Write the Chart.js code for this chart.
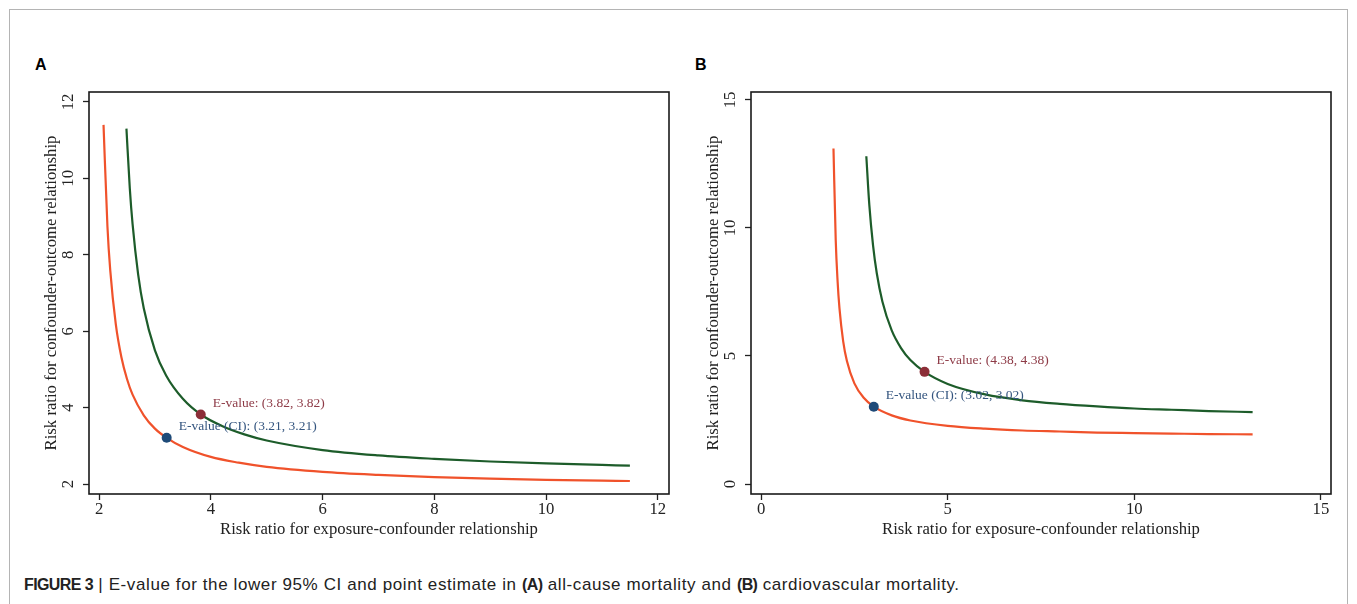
<!DOCTYPE html>
<html>
<head>
<meta charset="utf-8">
<script src="https://cdn.jsdelivr.net/npm/chart.js@4.4.1/dist/chart.umd.min.js"></script>
<style>
  html, body { margin: 0; padding: 0; background: #fff; }
  body { width: 1357px; height: 604px; position: relative; overflow: hidden; }
  .frame { position: absolute; left: 9px; top: 9px; width: 1339px; height: 620px;
           border: 1px solid #b4b4b4; box-sizing: border-box; }
  .panel { position: absolute; top: 0; }
  .letter { position: absolute; top: 56px; font: bold 16px "Liberation Sans", Arial, sans-serif; color: #000; }
  .caption { position: absolute; left: 24px; top: 575px; font: 17px "Liberation Sans", Arial, sans-serif;
             color: #222; letter-spacing: 0.6px; white-space: nowrap; }
  .caption b { font-weight: bold; font-size: 16px; letter-spacing: -0.6px; }
</style>
</head>
<body>
<div class="frame"></div>
<div class="letter" style="left:35px">A</div>
<div class="letter" style="left:695px">B</div>
<div class="panel" style="left:0px"><canvas id="chartA" width="690" height="560"></canvas></div>
<div class="panel" style="left:662px"><canvas id="chartB" width="690" height="560"></canvas></div>
<div class="caption"><b>FIGURE 3</b> | E-value for the lower 95% CI and point estimate in <b>(A)</b> all-cause mortality and <b>(B)</b> cardiovascular mortality.</div>

<script>
// Panel A: all-cause mortality
const aCiX = [2.08, 2.15, 2.2, 2.3, 2.4, 2.5, 2.6, 2.8, 3.0, 3.21, 3.5, 4.0, 4.5, 5, 6, 7, 8, 9, 10, 11, 11.5];
const aCiY = [11.4, 8.74, 7.6, 6.18, 5.32, 4.75, 4.34, 3.8, 3.45, 3.21, 2.97, 2.71, 2.56, 2.45, 2.32, 2.24, 2.18, 2.14, 2.11, 2.09, 2.08];
const aEstX = [2.49, 2.55, 2.6, 2.7, 2.8, 3.0, 3.2, 3.5, 3.82, 4.2, 4.6, 5, 6, 7, 8, 9, 10, 11, 11.5];
const aEstY = [11.3, 9.74, 8.8, 7.48, 6.6, 5.5, 4.84, 4.23, 3.82, 3.52, 3.3, 3.14, 2.89, 2.75, 2.66, 2.59, 2.54, 2.5, 2.48];
const aPoints = [3.82, 3.21];          // E-value, E-value (CI)
const aTicksX = [2, 4, 6, 8, 10, 12];
const aTicksY = [2, 4, 6, 8, 10, 12];

// Panel B: cardiovascular mortality
const bCiX = [1.94, 2.0, 2.05, 2.1, 2.2, 2.3, 2.5, 2.75, 3.02, 3.5, 4, 5, 6, 7, 8, 9, 10, 11, 12, 13.17];
const bCiY = [13.1, 9.53, 7.92, 6.87, 5.57, 4.8, 3.93, 3.37, 3.02, 2.68, 2.48, 2.27, 2.16, 2.09, 2.05, 2.01, 1.99, 1.97, 1.95, 1.94];
const bEstX = [2.82, 2.9, 3.0, 3.1, 3.25, 3.5, 3.75, 4.0, 4.38, 5, 6, 7, 8, 9, 10, 11, 12, 13.17];
const bEstY = [12.8, 10.9, 9.32, 8.23, 7.13, 6.0, 5.31, 4.84, 4.38, 3.91, 3.5, 3.27, 3.13, 3.03, 2.95, 2.9, 2.85, 2.81];
const bPoints = [4.38, 3.02];
const bTicksX = [0, 5, 10, 15];
const bTicksY = [0, 5, 10, 15];

const pointLabels = ['E-value', 'E-value (CI)'];
const xTitle = 'Risk ratio for exposure-confounder relationship';
const yTitle = 'Risk ratio for confounder-outcome relationship';

const RED = '#f0522b', GREEN = '#1d5c2a';
const DOT_EST = '#8c2e38', DOT_CI = '#1e4a78';
const TXT_EST = '#8e3b47', TXT_CI = '#34557f';
const SERIF = '"Liberation Serif", "Times New Roman", serif';

const zip = (xs, ys) => xs.map((x, i) => ({ x, y: ys[i] }));

// plot region outline + point annotations
const boxPlugin = {
    id: 'box',
    afterDraw(chart) {
        const { ctx, chartArea: a } = chart;
        ctx.save();
        ctx.strokeStyle = '#1a1a1a';
        ctx.lineWidth = 1.6;
        ctx.strokeRect(a.left, a.top, a.right - a.left, a.bottom - a.top);
        ctx.restore();
    }
};
const labelPlugin = {
    id: 'plabels',
    afterDatasetsDraw(chart) {
        const { ctx, scales: { x, y } } = chart;
        const vals = chart.options.plugins.plabels.values;
        const colors = [TXT_EST, TXT_CI];
        ctx.save();
        ctx.font = '13.5px ' + SERIF;
        ctx.textBaseline = 'middle';
        ctx.textAlign = 'left';
        vals.forEach((v, i) => {
            ctx.fillStyle = colors[i];
            const txt = pointLabels[i] + ': (' + v.toFixed(2) + ', ' + v.toFixed(2) + ')';
            ctx.fillText(txt, x.getPixelForValue(v) + 12, y.getPixelForValue(v) - 11);
        });
        ctx.restore();
    }
};

function makeChart(id, ci, est, pts, range, ticksX, ticksY, yw) {
    const setTicks = list => axis => { axis.ticks = list.map(v => ({ value: v })); };
    return new Chart(document.getElementById(id), {
        type: 'scatter',
        data: {
            datasets: [
                { data: ci, showLine: true, borderColor: RED, borderWidth: 2.2, pointRadius: 0, cubicInterpolationMode: 'monotone', order: 3 },
                { data: est, showLine: true, borderColor: GREEN, borderWidth: 2.2, pointRadius: 0, cubicInterpolationMode: 'monotone', order: 2 },
                { data: [{ x: pts[0], y: pts[0] }, { x: pts[1], y: pts[1] }], showLine: false,
                  pointRadius: 5, pointBackgroundColor: [DOT_EST, DOT_CI], pointBorderWidth: 0, order: 1 }
            ]
        },
        options: {
            responsive: false,
            animation: false,
            layout: { padding: { top: 92, right: 21, left: 0, bottom: 0 } },
            plugins: { legend: { display: false }, tooltip: { enabled: false }, plabels: { values: pts } },
            scales: {
                x: {
                    type: 'linear', min: range[0], max: range[1],
                    afterBuildTicks: setTicks(ticksX),
                    afterFit: s => { s.height = 66; },
                    grid: { drawOnChartArea: false, drawTicks: true, tickLength: 6, tickColor: '#222', tickWidth: 1.3 },
                    border: { display: false },
                    ticks: { font: { family: SERIF, size: 16.7 }, color: '#222', padding: 0, maxRotation: 0 },
                    title: { display: true, text: xTitle, font: { family: SERIF, size: 16.7 }, color: '#222', padding: { top: 0, bottom: 20 } }
                },
                y: {
                    type: 'linear', min: range[2], max: range[3],
                    afterBuildTicks: setTicks(ticksY),
                    afterFit: s => { s.width = yw; },
                    grid: { drawOnChartArea: false, drawTicks: true, tickLength: 6, tickColor: '#222', tickWidth: 1.3 },
                    border: { display: false },
                    ticks: { font: { family: SERIF, size: 16.7 }, color: '#222', padding: 6, minRotation: 90, maxRotation: 90, crossAlign: 'center' },
                    title: { display: true, text: yTitle, font: { family: SERIF, size: 16.7 }, color: '#222', padding: { top: 42, bottom: 0 } }
                }
            }
        },
        plugins: [boxPlugin, labelPlugin]
    });
}

makeChart('chartA', zip(aCiX, aCiY), zip(aEstX, aEstY), aPoints, [1.82, 12.2, 1.74, 12.26], aTicksX, aTicksY, 89);
makeChart('chartB', zip(bCiX, bCiY), zip(bEstX, bEstY), bPoints, [-0.27, 15.27, -0.39, 15.31], bTicksX, bTicksY, 89);
</script>
</body>
</html>
